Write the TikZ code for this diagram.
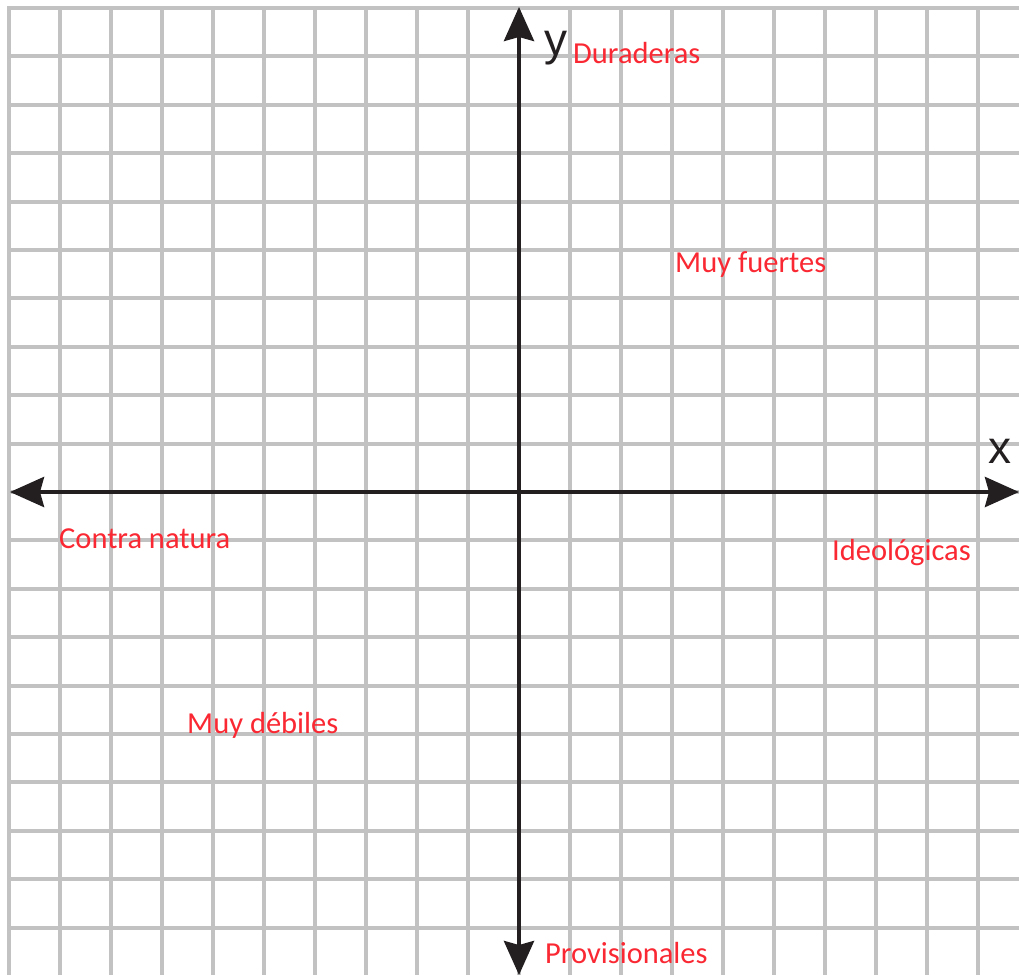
\documentclass[tikz,border=0pt]{standalone}
\usepackage{fontspec}
\setmainfont{Carlito}
\newfontfamily\axisfont{Liberation Sans}
\usetikzlibrary{arrows.meta}
\definecolor{gridgray}{RGB}{194,194,194}
\definecolor{axisblack}{RGB}{35,31,32}
\definecolor{labelred}{RGB}{250,40,50}
\tikzset{
  gridline/.style={draw=gridgray, line width=4pt},
  axisline/.style={draw=axisblack, line width=4pt, -{Stealth[length=34pt,width=30pt,inset=4pt]}},
  quadlabel/.style={text=labelred, font=\fontsize{30.5}{33}\selectfont, anchor=base west, inner sep=0pt},
  axislabel/.style={text=axisblack, font=\axisfont\fontsize{46}{50}\selectfont, anchor=base, inner sep=0pt}
}
\begin{document}
\begin{tikzpicture}[x=1pt,y=-1pt]
\useasboundingbox (0,0) rectangle (1019,975);
\fill[white] (0,0) rectangle (1019,975);
\begin{scope}
\clip (0,0) rectangle (1019,975);
% grid
\foreach \i in {0,...,19} {
  \draw[gridline] ({9+51*\i},6) -- ({9+51*\i},975);
  \draw[gridline] (7,{8+48.4*\i}) -- (1019,{8+48.4*\i});
}
% axes
\coordinate (origin) at (519,492);
\coordinate (xneg) at (10,492);
\coordinate (xpos) at (1019,492);
\coordinate (ypos) at (519,7);
\coordinate (yneg) at (519,975);
\draw[axisline] (origin) -- (xpos);
\draw[axisline] (origin) -- (xneg);
\draw[axisline] (origin) -- (ypos);
\draw[axisline] (origin) -- (yneg);
\end{scope}
% axis labels
\node[axislabel] (ylab) at (556,55) {y};
\node[axislabel] (xlab) at (1000,463) {x};
% quadrant labels
\node[quadlabel] (durad) at (573,63) {Duraderas};
\node[quadlabel] (fuertes) at (675,272) {Muy fuertes};
\node[quadlabel] (contra) at (59,548) {Contra natura};
\node[quadlabel] (ideol) at (832,560) {Ideológicas};
\node[quadlabel] (debiles) at (187,733) {Muy débiles};
\node[quadlabel] (provis) at (545,963) {Provisionales};
\end{tikzpicture}
\end{document}
